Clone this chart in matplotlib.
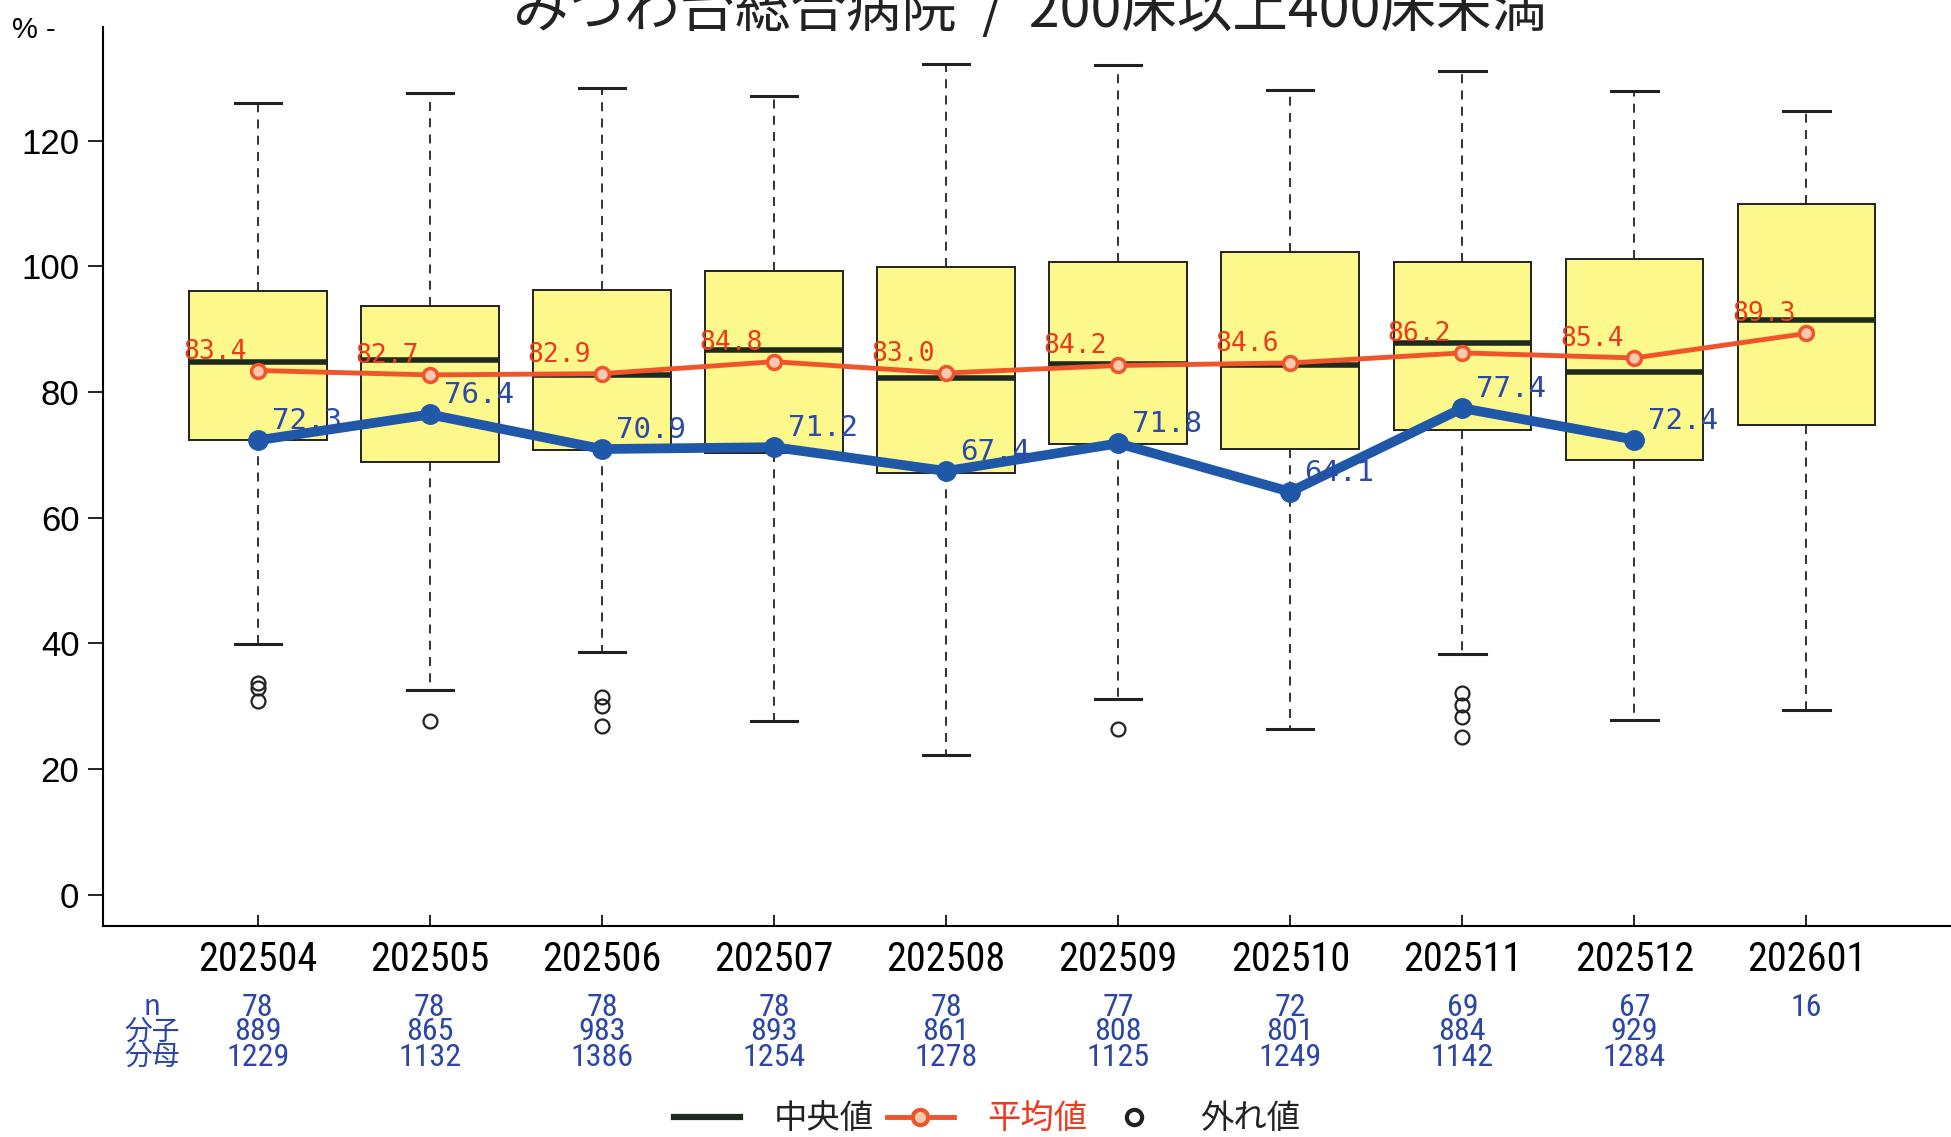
import matplotlib
matplotlib.use('Agg')
import matplotlib.pyplot as plt
from matplotlib import font_manager
from matplotlib.font_manager import FontProperties
from matplotlib.lines import Line2D
import matplotlib.transforms as mtransforms


def pick(*names):
    for n in names:
        try:
            font_manager.findfont(FontProperties(family=n), fallback_to_default=False)
            return n
        except Exception:
            pass
    return 'DejaVu Sans'


NARROW = pick('Liberation Sans Narrow', 'Roboto Condensed', 'Open Sans Condensed',
              'Noto Sans Condensed', 'Liberation Sans')
SANS = pick('Liberation Sans', 'DejaVu Sans')
CJK = 'Noto Sans CJK JP'
MONO = 'DejaVu Sans Mono'
narrow_real = NARROW != 'Liberation Sans'

# ---------------- data ----------------
title = "みつわ台総合病院  /  200床以上400床未満"
months = ['202504', '202505', '202506', '202507', '202508',
          '202509', '202510', '202511', '202512', '202601']
q1 = [72.3, 68.9, 70.7, 70.3, 67.1, 71.7, 70.9, 73.9, 69.1, 74.7]
med = [84.8, 85.1, 82.7, 86.7, 82.2, 84.4, 84.2, 87.7, 83.2, 91.5]
q3 = [96.0, 93.7, 96.2, 99.2, 99.8, 100.6, 102.2, 100.6, 101.2, 109.9]
whislo = [39.8, 32.6, 38.6, 27.7, 22.2, 31.2, 26.3, 38.3, 27.8, 29.4]
whishi = [125.9, 127.6, 128.3, 127.1, 132.2, 132.0, 128.0, 131.0, 127.9, 124.7]
fliers = [[33.6, 32.8, 30.8], [27.7], [31.5, 30.0, 26.8], [], [],
          [26.3], [], [32.0, 30.1, 28.2, 25.0], [], []]
mean = [83.4, 82.7, 82.9, 84.8, 83.0, 84.2, 84.6, 86.2, 85.4, 89.3]
hosp = [72.3, 76.4, 70.9, 71.2, 67.4, 71.8, 64.1, 77.4, 72.4]
n_vals = [78, 78, 78, 78, 78, 77, 72, 69, 67, 16]
numer = [889, 865, 983, 893, 861, 808, 801, 884, 929]
denom = [1229, 1132, 1386, 1254, 1278, 1125, 1249, 1142, 1284]
row_labels = ['n', '分子', '分母']
legend_labels = ['中央値', '平均値', '外れ値']
yticks = [0, 20, 40, 60, 80, 100, 120]

# ---------------- style ----------------
BOX_FACE = '#fdf88c'
ORANGE = '#f0542a'
RED_TXT = '#ec3a1e'
BLUE = '#1f58a8'
BLUE_TXT = '#2a4aa8'
TABLE_BLUE = '#2a46a8'
MED_COL = '#1e2a1e'

xt_size = 29 if narrow_real else 27
tb_size = 23 if narrow_real else 20.5

W, H = 1951, 1137
fig = plt.figure(figsize=(W / 100, H / 100), dpi=100)
ax = fig.add_axes([103 / W, 1 - 926 / H, 1848 / W, 898.6 / H])

pos = list(range(1, len(months) + 1))
stats = []
for i in range(len(months)):
    stats.append(dict(q1=q1[i], med=med[i], q3=q3[i], whislo=whislo[i],
                      whishi=whishi[i], fliers=fliers[i], label=months[i]))

ax.bxp(stats, positions=pos, widths=0.8, patch_artist=True, showfliers=True,
       capwidths=0.27,
       boxprops=dict(facecolor=BOX_FACE, edgecolor='#222222', linewidth=1.4),
       whiskerprops=dict(color='#222222', linewidth=1.3, linestyle=(0, (5, 4))),
       capprops=dict(color='#222222', linewidth=2.2),
       medianprops=dict(color=MED_COL, linewidth=4.0),
       flierprops=dict(marker='o', markerfacecolor='none', markeredgecolor='#222222',
                       markersize=10, markeredgewidth=1.6))

# mean line
ax.plot(pos, mean, color=ORANGE, lw=3.5, marker='o', ms=10, mfc='#fbc9b0',
        mec=ORANGE, mew=2.5, zorder=5)
for x, v in zip(pos, mean):
    ax.annotate(f"{v:.1f}", (x, v), xytext=(-11, 19), textcoords='offset pixels',
                ha='right', va='center', color=RED_TXT, fontsize=19, family=MONO,
                zorder=6)

# hospital line
hpos = pos[:len(hosp)]
ax.plot(hpos, hosp, color=BLUE, lw=7, marker='o', ms=14, zorder=7)
for x, v in zip(hpos, hosp):
    ax.annotate(f"{v:.1f}", (x, v), xytext=(14, 19), textcoords='offset pixels',
                ha='left', va='center', color=BLUE_TXT, fontsize=21, family=MONO,
                zorder=8)

# axes
ax.set_xlim(0.1, 10.84)
ax.set_ylim(-5, 138)
ax.spines['top'].set_visible(False)
ax.spines['right'].set_visible(False)
ax.spines['left'].set_linewidth(1.5)
ax.spines['bottom'].set_linewidth(1.5)
ax.set_xticks(pos)
ax.set_xticklabels(months, family=NARROW, fontsize=xt_size)
ax.tick_params(axis='x', direction='in', length=8, width=1.2, pad=10)
ax.set_yticks(yticks)
ax.set_yticklabels([str(t) for t in yticks], family=SANS, fontsize=25)
ax.tick_params(axis='y', direction='out', length=11, width=1.2, pad=6)

fig.text(12 / W, 1 - 30 / H, "% -", ha='left', va='center', fontsize=21, family=SANS)

# title (clipped at top as in reference)
fig.text(1030 / W, 1 - 40 / H, title, ha='center', va='bottom', fontsize=40,
         family=[CJK, 'DejaVu Sans'], color='#222222')

# table under x axis
trans = mtransforms.blended_transform_factory(ax.transData, fig.transFigure)
row_y = [1 - 1007 / H, 1 - 1032 / H, 1 - 1057 / H]
for lab, yy in zip(row_labels, row_y):
    fig.text(152 / W, yy, lab, ha='center', va='center', color=TABLE_BLUE,
             fontsize=20, family=[CJK, 'DejaVu Sans'])
for i, x in enumerate(pos):
    ax.text(x, row_y[0], str(n_vals[i]), transform=trans, ha='center', va='center',
            color=TABLE_BLUE, fontsize=tb_size, family=NARROW)
for i, x in enumerate(pos[:len(numer)]):
    ax.text(x, row_y[1], str(numer[i]), transform=trans, ha='center', va='center',
            color=TABLE_BLUE, fontsize=tb_size, family=NARROW)
    ax.text(x, row_y[2], str(denom[i]), transform=trans, ha='center', va='center',
            color=TABLE_BLUE, fontsize=tb_size, family=NARROW)

# legend
handles = [Line2D([], [], color=MED_COL, lw=4.5),
           Line2D([], [], color=ORANGE, lw=3.5, marker='o', ms=11, mfc='#fbc9b0',
                  mec=ORANGE, mew=3),
           Line2D([], [], ls='none', marker='o', ms=11, mfc='none', mec='#222222', mew=3)]
leg = fig.legend(handles, legend_labels, loc='center', bbox_to_anchor=(0.506, 0.016),
                 ncol=3, frameon=False, prop=FontProperties(family=CJK, size=24),
                 handlelength=2.0, handletextpad=1.0, columnspacing=0.4)
for t, c in zip(leg.get_texts(), ['#222222', RED_TXT, '#222222']):
    t.set_color(c)

fig.savefig('out.png', dpi=100)
